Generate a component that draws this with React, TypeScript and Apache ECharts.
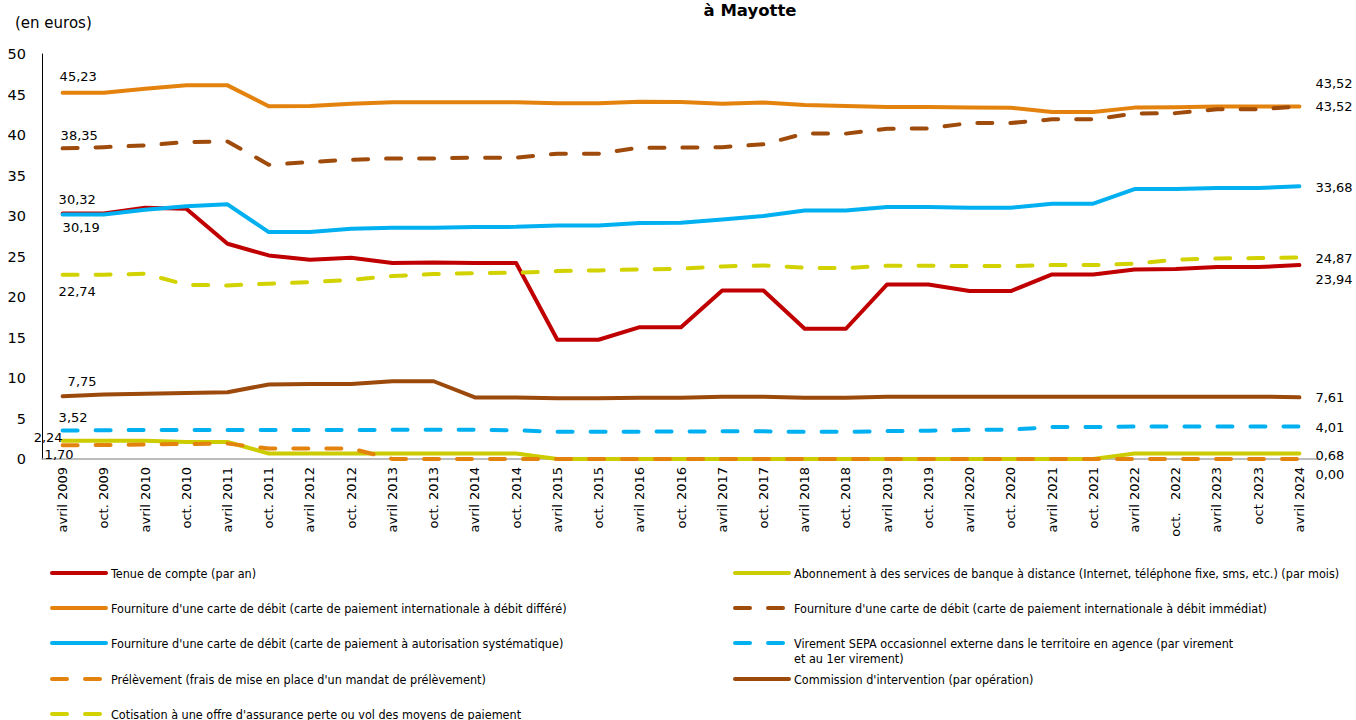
import React, { useEffect, useRef } from "react";
import * as echarts from "echarts";

const categories = [
  "avril 2009", "oct. 2009", "avril 2010", "oct. 2010", "avril 2011", "oct. 2011",
  "avril 2012", "oct. 2012", "avril 2013", "oct. 2013", "avril 2014", "oct. 2014",
  "avril 2015", "oct. 2015", "avril 2016", "oct. 2016", "avril 2017", "oct. 2017",
  "avril 2018", "oct. 2018", "avril 2019", "oct. 2019", "avril 2020", "oct. 2020",
  "avril 2021", "oct. 2021", "avril 2022", "oct.   2022", "avril 2023", "oct 2023", "avril 2024",
];

const tenueCompte = [30.32, 30.30, 31.02, 30.90, 26.58, 25.13, 24.60, 24.85, 24.19, 24.25, 24.19, 24.19, 14.72, 14.72, 16.28, 16.28, 20.81, 20.81, 16.08, 16.08, 21.55, 21.55, 20.73, 20.73, 22.79, 22.79, 23.40, 23.45, 23.70, 23.70, 23.94];
const abonnement = [2.24, 2.24, 2.24, 2.10, 2.10, 0.68, 0.68, 0.68, 0.68, 0.68, 0.68, 0.68, 0, 0, 0, 0, 0, 0, 0, 0, 0, 0, 0, 0, 0, 0, 0.68, 0.68, 0.68, 0.68, 0.68];
const debitDiffere = [45.23, 45.23, 45.72, 46.13, 46.13, 43.54, 43.58, 43.86, 44.03, 44.03, 44.03, 44.03, 43.91, 43.91, 44.12, 44.07, 43.87, 44.00, 43.70, 43.58, 43.46, 43.46, 43.38, 43.36, 42.84, 42.84, 43.38, 43.42, 43.52, 43.52, 43.52];
const debitImmediat = [38.35, 38.50, 38.72, 39.13, 39.21, 36.33, 36.66, 36.95, 37.11, 37.11, 37.20, 37.20, 37.69, 37.69, 38.44, 38.44, 38.50, 38.85, 40.17, 40.17, 40.78, 40.80, 41.48, 41.48, 41.93, 41.93, 42.64, 42.70, 43.17, 43.17, 43.52];
const autorisation = [30.19, 30.19, 30.78, 31.19, 31.44, 28.02, 28.02, 28.43, 28.56, 28.56, 28.64, 28.66, 28.84, 28.84, 29.13, 29.17, 29.58, 29.99, 30.69, 30.69, 31.10, 31.10, 31.02, 31.02, 31.52, 31.52, 33.33, 33.33, 33.45, 33.45, 33.68];
const virement = [3.52, 3.55, 3.58, 3.58, 3.58, 3.58, 3.58, 3.58, 3.60, 3.60, 3.60, 3.55, 3.35, 3.35, 3.38, 3.38, 3.42, 3.42, 3.35, 3.35, 3.45, 3.50, 3.60, 3.62, 3.95, 3.95, 4.00, 4.00, 4.01, 4.01, 4.01];
const prelevement = [1.70, 1.72, 1.80, 1.85, 1.90, 1.30, 1.30, 1.30, 0, 0, 0, 0, 0, 0, 0, 0, 0, 0, 0, 0, 0, 0, 0, 0, 0, 0, 0, 0, 0, 0, 0];
const commission = [7.75, 7.95, 8.05, 8.15, 8.25, 9.20, 9.25, 9.25, 9.60, 9.60, 7.60, 7.60, 7.50, 7.50, 7.55, 7.55, 7.70, 7.70, 7.55, 7.55, 7.70, 7.70, 7.70, 7.70, 7.70, 7.70, 7.70, 7.70, 7.70, 7.70, 7.61];
const cotisation = [22.74, 22.75, 22.87, 21.51, 21.43, 21.64, 21.84, 22.13, 22.58, 22.83, 22.95, 22.99, 23.20, 23.28, 23.41, 23.49, 23.78, 23.90, 23.61, 23.57, 23.86, 23.86, 23.82, 23.82, 23.94, 23.94, 24.11, 24.60, 24.76, 24.80, 24.87];

const seriesNames = [
  "Tenue de compte (par an)",
  "Abonnement à des services de banque à distance (Internet, téléphone fixe, sms, etc.) (par mois)",
  "Fourniture d'une carte de débit (carte de paiement internationale à débit différé)",
  "Fourniture d'une carte de débit (carte de paiement internationale à débit immédiat)",
  "Fourniture d'une carte de débit (carte de paiement à autorisation systématique)",
  "Virement SEPA occasionnel externe dans le territoire en agence (par virement\net au 1er virement)",
  "Prélèvement (frais de mise en place d'un mandat de prélèvement)",
  "Commission d'intervention (par opération)",
  "Cotisation à une offre d'assurance perte ou vol des moyens de paiement",
];

type LabelSpec = { dx: number; dy: number; align: "left" | "right" };

const fmt = (v: number) => v.toFixed(2).replace(".", ",");
const LABEL_FONT = "DejaVu Sans";

function buildData(values: number[], first: LabelSpec, last: LabelSpec) {
  const lastIdx = values.length - 1;
  return values.map((v, i) => {
    const spec = i === 0 ? first : i === lastIdx ? last : null;
    if (!spec) return v;
    return {
      value: v,
      symbol: "circle",
      symbolSize: 1,
      itemStyle: { color: "rgba(0,0,0,0)", borderWidth: 0 },
      label: {
        show: true,
        position: [0.5 + spec.dx, 0.5 + spec.dy],
        align: spec.align,
        verticalAlign: "middle",
        color: "#000",
        fontFamily: LABEL_FONT,
        fontSize: 13,
        formatter: (p: any) => fmt(Number(p.value)),
      },
    };
  });
}

const DASH = [15, 18];

function makeSeries(name: string, values: number[], color: string, dashed: boolean, first: LabelSpec, last: LabelSpec) {
  return {
    type: "line",
    name,
    data: buildData(values, first, last),
    symbol: "none",
    showSymbol: true,
    showAllSymbol: true,
    silent: true,
    lineStyle: {
      color,
      width: 4,
      type: dashed ? DASH : "solid",
      cap: "round",
      join: "round",
    },
    itemStyle: { color },
    emphasis: { disabled: true },
  };
}

const L = (dx: number, dy: number): LabelSpec => ({ dx, dy, align: "left" });
const R = (dx: number, dy: number): LabelSpec => ({ dx, dy, align: "right" });

export default function App() {
  const ref = useRef<HTMLDivElement>(null);

  useEffect(() => {
    if (!ref.current) return;
    const chart = echarts.init(ref.current, undefined, { renderer: "svg" });

    const series = [
      makeSeries(seriesNames[0], tenueCompte, "#C00000", false, L(-4, -14), L(16, 14)),
      makeSeries(seriesNames[1], abonnement, "#CCCC00", false, R(0, -3), L(16, 2)),
      makeSeries(seriesNames[2], debitDiffere, "#E4820E", false, L(-3, -16), L(16, -23)),
      makeSeries(seriesNames[3], debitImmediat, "#9E4B0B", true, L(-2, -13), L(16, 0)),
      makeSeries(seriesNames[4], autorisation, "#00B0F0", false, L(0, 13), L(16, 1)),
      makeSeries(seriesNames[5], virement, "#00B0F0", true, L(-4, -13), L(16, 1)),
      makeSeries(seriesNames[6], prelevement, "#E4820E", true, L(-18, 9), L(16, 15)),
      makeSeries(seriesNames[7], commission, "#9C4A0C", false, L(5, -15), L(16, 0)),
      makeSeries(seriesNames[8], cotisation, "#D2D200", true, L(-4, 17), L(16, 1)),
    ];

    const rowY = [573, 608, 643, 679, 714];
    const legendFont = "'DejaVu Sans Condensed', sans-serif";
    const legends = seriesNames.map((name, i) => {
      const col = i % 2;
      const row = Math.floor(i / 2);
      const multi = name.includes("\n");
      return {
        show: true,
        data: [name],
        left: col === 0 ? 50 : 733,
        top: multi ? rowY[row] - 22.5 : rowY[row] - 7.5,
        padding: 0,
        itemWidth: 54,
        itemHeight: 12,
        selectedMode: false,
        itemStyle: { opacity: 0 },
        lineStyle: { width: 4 },
        formatter: multi ? (n: string) => "\n" + n : undefined,
        textStyle: {
          fontFamily: legendFont,
          fontSize: 12.5,
          color: "#000",
          lineHeight: 15,
        },
      };
    });

    chart.setOption({
      animation: false,
      backgroundColor: "#fff",
      grid: { left: 42, right: 36, top: 54, bottom: 261, containLabel: false },
      xAxis: {
        type: "category",
        data: categories,
        boundaryGap: true,
        axisLine: { show: true, lineStyle: { color: "#A6A6A6", width: 1.5 } },
        axisTick: { show: false },
        axisLabel: {
          interval: 0,
          rotate: 90,
          margin: 8,
          fontFamily: "DejaVu Sans",
          fontSize: 13,
          color: "#000",
        },
        splitLine: { show: false },
      },
      yAxis: {
        type: "value",
        min: 0,
        max: 50,
        interval: 5,
        axisLine: { show: true, lineStyle: { color: "#000", width: 1 } },
        axisTick: { show: false },
        axisLabel: { margin: 16, fontFamily: "DejaVu Sans", fontSize: 14.5, color: "#000" },
        splitLine: { show: false },
      },
      legend: legends,
      graphic: [
        {
          type: "text",
          left: 15,
          top: 15,
          style: { text: "(en euros)", fontFamily: "DejaVu Sans", fontSize: 15, fill: "#000" },
        },
        {
          type: "text",
          x: 750,
          y: 10,
          style: {
            text: "à Mayotte",
            fontFamily: "DejaVu Sans",
            fontWeight: "bold",
            fontSize: 16.5,
            fill: "#000",
            align: "center",
            verticalAlign: "middle",
          },
        },
      ],
      series,
    });

    return () => chart.dispose();
  }, []);

  return (
    <div
      ref={ref}
      style={{ position: "fixed", left: 0, top: 0, width: 1356, height: 720, background: "#fff" }}
    />
  );
}
